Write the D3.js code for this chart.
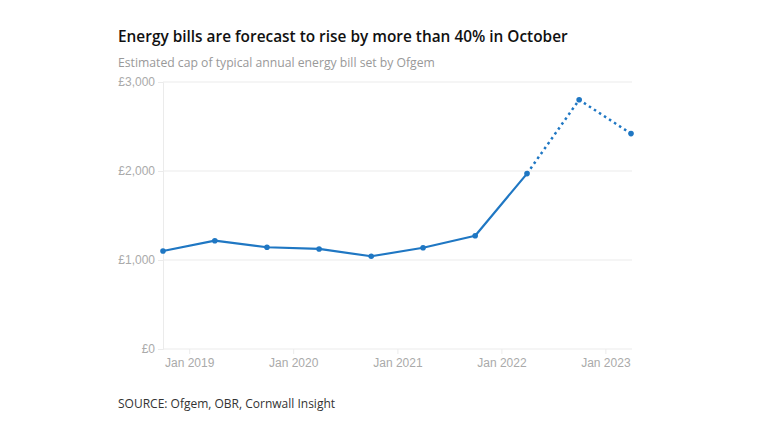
<!DOCTYPE html>
<html>
<head>
<meta charset="utf-8">
<script src="https://cdn.jsdelivr.net/npm/d3@7"></script>
<style>
  html, body { margin: 0; padding: 0; background: #fff; }
  svg { display: block; font-family: "Open Sans", "Noto Sans", sans-serif; }
</style>
</head>
<body>
<svg id="chart" width="768" height="432"></svg>
<script>
const dates = ["2018-10-01","2019-04-01","2019-10-01","2020-04-01","2020-10-01","2021-04-01","2021-10-01","2022-04-01","2022-10-01","2023-04-01"];
const values = [1101, 1217, 1143, 1124, 1042, 1138, 1273, 1971, 2800, 2420];
const forecastFrom = 7; // index where forecast (dotted) starts
const yTicks = [0, 1000, 2000, 3000];
const xTickDates = ["2019-01-01","2020-01-01","2021-01-01","2022-01-01","2023-01-01"];
const title = "Energy bills are forecast to rise by more than 40% in October";
const subtitle = "Estimated cap of typical annual energy bill set by Ofgem";
const source = "SOURCE: Ofgem, OBR, Cornwall Insight";

const parse = d3.utcParse("%Y-%m-%d");
const data = dates.map((d, i) => ({ date: parse(d), value: values[i] }));

const svg = d3.select("#chart");
const mLeft = 163, mRight = 631, mTop = 82, mBottom = 349;

const x = d3.scaleUtc().domain([parse(dates[0]), parse(dates[dates.length - 1])]).range([mLeft, mRight]);
const y = d3.scaleLinear().domain([0, 3000]).range([mBottom, mTop]);

const blue = "#1f77c3";
const grid = "#ebebeb";
const tickText = "#aaaaaa";

// Title, subtitle
svg.append("text").attr("x", 118).attr("y", 42)
  .attr("font-size", 15.4).attr("font-weight", 600).attr("fill", "#111")
  .text(title);
svg.append("text").attr("x", 118).attr("y", 67)
  .attr("font-size", 12.2).attr("fill", "#999")
  .text(subtitle);

// Y grid & axis
const yAxis = d3.axisLeft(y).tickValues(yTicks)
  .tickSize(5).tickPadding(3)
  .tickFormat(d => "£" + d3.format(",")(d));
const gy = svg.append("g").attr("transform", `translate(${mLeft},0)`).call(yAxis);
gy.select(".domain").attr("stroke", grid);
gy.selectAll(".tick line").attr("stroke", grid);
gy.selectAll(".tick text").attr("fill", tickText).attr("font-size", 12).attr("font-family", "inherit");

svg.append("g").selectAll("line").data(yTicks).join("line")
  .attr("x1", mLeft).attr("x2", mRight + 1)
  .attr("y1", d => y(d)).attr("y2", d => y(d))
  .attr("stroke", grid).attr("stroke-width", 1);

// X axis
const xAxis = d3.axisBottom(x).tickValues(xTickDates.map(parse))
  .tickSize(5).tickPadding(4)
  .tickFormat(d3.utcFormat("Jan %Y"));
const gx = svg.append("g").attr("transform", `translate(0,${mBottom})`).call(xAxis);
gx.select(".domain").remove();
gx.selectAll(".tick line").attr("stroke", grid);
gx.selectAll(".tick text").attr("fill", tickText).attr("font-size", 12).attr("font-family", "inherit");

// Lines
const line = d3.line().x(d => x(d.date)).y(d => y(d.value));
svg.append("path").datum(data.slice(0, forecastFrom + 1))
  .attr("fill", "none").attr("stroke", blue).attr("stroke-width", 2.2)
  .attr("stroke-linejoin", "round").attr("d", line);
svg.append("path").datum(data.slice(forecastFrom))
  .attr("fill", "none").attr("stroke", blue).attr("stroke-width", 2.5)
  .attr("stroke-dasharray", "2.5,3.5").attr("d", line);

// Points
svg.append("g").selectAll("circle").data(data).join("circle")
  .attr("cx", d => x(d.date)).attr("cy", d => y(d.value))
  .attr("r", 2.8).attr("fill", blue);

// Source
svg.append("text").attr("x", 118).attr("y", 408)
  .attr("font-size", 12).attr("fill", "#333")
  .text(source);
</script>
</body>
</html>
